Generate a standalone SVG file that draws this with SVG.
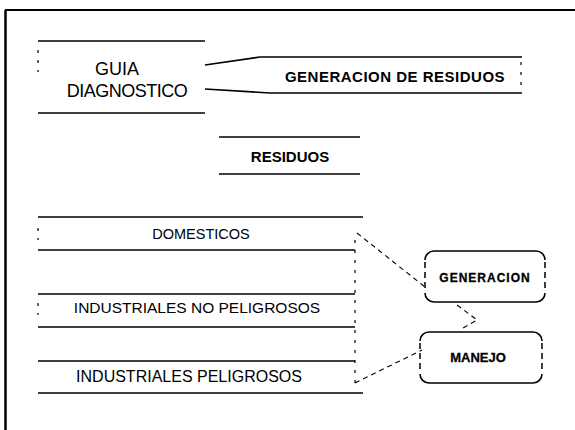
<svg xmlns="http://www.w3.org/2000/svg" width="575" height="430" viewBox="0 0 575 430">
<style>
.ln{stroke:#000;stroke-width:1.6;fill:none}
.dash{stroke:#000;stroke-width:1.1;fill:none;stroke-dasharray:5 4}
.dot{stroke:#000;stroke-width:1.2;fill:none;stroke-dasharray:3 7}
.side{stroke:#000;stroke-width:1.5;fill:none;stroke-dasharray:6 4}
.t{font-family:"Liberation Sans",Arial,sans-serif;fill:#000;text-anchor:middle}
.b{font-weight:bold}
</style>
<rect width="575" height="430" fill="#fff"/>
<g id="frame">
<line class="ln" x1="5" y1="10" x2="575" y2="10" style="stroke-width:2"/>
<line class="ln" x1="5.5" y1="10" x2="5.5" y2="430" style="stroke-width:2.5"/>
</g>
<g id="guia">
<line class="ln" x1="38" y1="41" x2="205" y2="41"/>
<line class="ln" x1="38" y1="113" x2="205" y2="113"/>
<line class="dot" x1="38" y1="50" x2="38" y2="72"/>
<text class="t" x="117" y="75" font-size="18">GUIA</text>
<text class="t" x="127" y="97" font-size="18" letter-spacing="-0.5">DIAGNOSTICO</text>
</g>
<g id="generacion-residuos">
<polyline class="ln" points="205,65 260,57 522,57"/>
<polyline class="ln" points="205,89 270,93 522,93"/>
<line class="dot" x1="521" y1="62" x2="521" y2="90"/>
<text class="t b" x="395" y="82" font-size="15" letter-spacing="0.5">GENERACION DE RESIDUOS</text>
</g>
<g id="residuos">
<line class="ln" x1="219" y1="137" x2="360" y2="137"/>
<line class="ln" x1="219" y1="174" x2="360" y2="174"/>
<text class="t b" x="290" y="162" font-size="15">RESIDUOS</text>
</g>
<g id="domesticos">
<line class="ln" x1="38" y1="217" x2="363" y2="217"/>
<line class="ln" x1="38" y1="250" x2="355" y2="250"/>
<text class="t" x="201" y="239" font-size="14.5">DOMESTICOS</text>
</g>
<g id="industriales-no-peligrosos">
<line class="ln" x1="38" y1="294" x2="355" y2="294"/>
<line class="ln" x1="38" y1="327" x2="355" y2="327"/>
<text class="t" x="197" y="313" font-size="15.5">INDUSTRIALES NO PELIGROSOS</text>
</g>
<g id="industriales-peligrosos">
<line class="ln" x1="38" y1="361" x2="355" y2="361"/>
<line class="ln" x1="38" y1="393" x2="363" y2="393"/>
<text class="t" x="189" y="382" font-size="16">INDUSTRIALES PELIGROSOS</text>
</g>
<g id="side-marks">
<line class="dot" x1="355" y1="240" x2="355" y2="385"/>
<line class="dot" x1="38" y1="228" x2="38" y2="240"/>
<line class="dot" x1="38" y1="303" x2="38" y2="315"/>
</g>
<g id="generacion">
<path class="ln" d="M425,260 A9,9 0 0 1 434,251 L536,251 A9,9 0 0 1 545,260"/>
<path class="ln" d="M425,293 A9,9 0 0 0 434,302 L536,302 A9,9 0 0 0 545,293"/>
<line class="side" x1="425" y1="262" x2="425" y2="292"/>
<line class="side" x1="545" y1="262" x2="545" y2="292"/>
<text class="t b" x="485" y="282" font-size="12" letter-spacing="1" stroke="#000" stroke-width="0.3">GENERACION</text>
</g>
<g id="manejo">
<path class="ln" d="M420,341 A9,9 0 0 1 429,332 L533,332 A9,9 0 0 1 542,341"/>
<path class="ln" d="M420,374 A9,9 0 0 0 429,383 L533,383 A9,9 0 0 0 542,374"/>
<line class="side" x1="420" y1="343" x2="420" y2="373"/>
<line class="side" x1="542" y1="343" x2="542" y2="373"/>
<text class="t b" x="478" y="362" font-size="13" stroke="#000" stroke-width="0.3">MANEJO</text>
</g>
<g id="connectors">
<polyline class="dash" points="357,233 425,287"/>
<polyline class="dash" points="457,305 477,320 463,328"/>
<polyline class="dash" points="355,383 422,350"/>
</g>
</svg>
